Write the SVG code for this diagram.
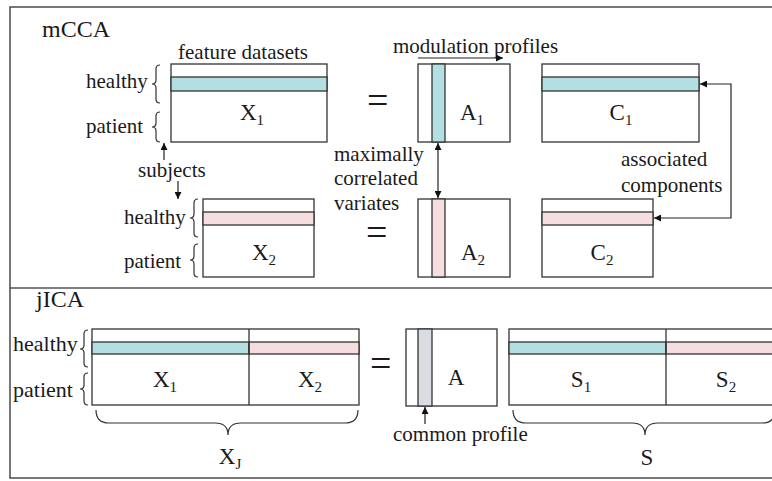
<svg xmlns="http://www.w3.org/2000/svg" width="772" height="481" viewBox="0 0 772 481">
<style>
text{font-family:"Liberation Serif","Times New Roman",serif;fill:#1a1a1a}
.lb{font-size:21px}
.lb2{font-size:22px}
.ttl{font-size:24px}
.m{font-size:23px;text-anchor:middle}
.sub{font-size:15px}
.eq{font-size:38px}
.box{fill:#fff;stroke:#333;stroke-width:1.3}
.ln{fill:none;stroke:#333;stroke-width:1.3}
.cy{fill:#b3dfe3;stroke:#333;stroke-width:1.3}
.pk{fill:#f6dde0;stroke:#333;stroke-width:1.3}
.gy{fill:#d9dde1;stroke:#333;stroke-width:1.3}
.br{fill:none;stroke:#333;stroke-width:1.2}
.ar{fill:none;stroke:#222;stroke-width:1.2}
.frame{fill:none;stroke:#555;stroke-width:1.6}
</style>
<defs>
<marker id="ah" viewBox="0 0 10 10" refX="10" refY="5" markerWidth="7" markerHeight="7" markerUnits="userSpaceOnUse" orient="auto-start-reverse">
<path d="M0,0 L10,5 L0,10 z" fill="#111"/>
</marker>
</defs>
<rect width="772" height="481" fill="#fff"/>
<g id="frame">
<rect class="frame" x="10" y="7" width="780" height="471"/>
<line class="frame" x1="10" y1="288" x2="772" y2="288"/>
</g>
<text class="ttl" x="42" y="37">mCCA</text>
<text class="ttl" x="36" y="307">jICA</text>

<g id="X1">
<rect class="box" x="171" y="64" width="156" height="78"/>
<rect class="cy" x="171" y="77" width="156" height="14"/>
<text class="m" x="252" y="120">X<tspan class="sub" dy="5">1</tspan></text>
<text class="lb" x="178" y="59">feature datasets</text>
<text class="lb" x="86" y="88">healthy</text>
<text class="lb" x="86" y="133">patient</text>
<path class="br" d="M160,65 q-4,0 -4,4 v11 q0,4 -4,4 q4,0 4,4 v11 q0,4 4,4"/>
<path class="br" d="M160,112 q-4,0 -4,4 v7 q0,4 -4,4 q4,0 4,4 v7 q0,4 4,4"/>
</g>
<text class="eq" x="367" y="113">=</text>
<g id="A1">
<rect class="box" x="418" y="64" width="92" height="78"/>
<rect class="cy" x="432" y="64" width="13" height="78"/>
<text class="m" x="472" y="120">A<tspan class="sub" dy="5">1</tspan></text>
<text class="lb" x="393" y="53">modulation profiles</text>
</g>
<g id="C1">
<rect class="box" x="542" y="64" width="157" height="78"/>
<rect class="cy" x="542" y="77" width="157" height="14"/>
<text class="m" x="621" y="120">C<tspan class="sub" dy="5">1</tspan></text>
</g>
<g id="X2">
<rect class="box" x="203" y="199" width="111" height="78"/>
<rect class="pk" x="203" y="212" width="111" height="13"/>
<text class="m" x="264" y="260">X<tspan class="sub" dy="5">2</tspan></text>
<text class="lb" x="124" y="224">healthy</text>
<text class="lb" x="124" y="268">patient</text>
<path class="br" d="M198,199 q-4,0 -4,4 v11 q0,4 -4,4 q4,0 4,4 v11 q0,4 4,4"/>
<path class="br" d="M198,244 q-4,0 -4,4 v8 q0,4 -4,4 q4,0 4,4 v9 q0,4 4,4"/>
</g>
<text class="lb" x="334" y="161">maximally</text>
<text class="lb" x="334" y="185">correlated</text>
<text class="lb" x="334" y="210">variates</text>
<text class="eq" x="366" y="245">=</text>
<g id="A2">
<rect class="box" x="418" y="199" width="92" height="78"/>
<rect class="pk" x="432" y="199" width="13" height="78"/>
<text class="m" x="473" y="260">A<tspan class="sub" dy="5">2</tspan></text>
</g>
<g id="C2">
<rect class="box" x="542" y="199" width="111" height="78"/>
<rect class="pk" x="542" y="212" width="111" height="13"/>
<text class="m" x="602" y="260">C<tspan class="sub" dy="5">2</tspan></text>
</g>
<text class="lb" x="621" y="166">associated</text>
<text class="lb" x="621" y="192">components</text>
<text class="lb" x="138" y="177">subjects</text>

<g id="XJ">
<rect class="box" x="92" y="329" width="267" height="76"/>
<rect class="cy" x="92" y="342" width="157" height="12"/>
<rect class="pk" x="249" y="342" width="110" height="12"/>
<line class="ln" x1="249" y1="329" x2="249" y2="405"/>
<text class="m" x="165" y="387">X<tspan class="sub" dy="5">1</tspan></text>
<text class="m" x="310" y="387">X<tspan class="sub" dy="5">2</tspan></text>
<text class="lb2" x="13" y="351">healthy</text>
<text class="lb2" x="13" y="397">patient</text>
<path class="br" d="M88,330 q-4,0 -4,4 v11 q0,4 -4,4 q4,0 4,4 v10 q0,4 4,4"/>
<path class="br" d="M88,373 q-4,0 -4,4 v8 q0,4 -4,4 q4,0 4,4 v8 q0,4 4,4"/>
<path class="br" d="M96,410 q0,13 13,13 h106 q13,0 13,12 q0,-12 13,-12 h104 q13,0 13,-13"/>
<text class="m" x="230" y="464">X<tspan class="sub" dy="5">J</tspan></text>
</g>
<text class="eq" x="370" y="376">=</text>
<g id="A">
<rect class="box" x="406" y="329" width="91" height="77"/>
<rect class="gy" x="418" y="329" width="14" height="77"/>
<text class="m" x="456" y="385">A</text>
<text class="lb" x="393" y="441">common profile</text>
</g>
<g id="S">
<rect class="box" x="509" y="329" width="280" height="76"/>
<rect class="cy" x="509" y="342" width="157" height="12"/>
<rect class="pk" x="666" y="342" width="123" height="12"/>
<line class="ln" x1="666" y1="329" x2="666" y2="405"/>
<text class="m" x="581" y="387">S<tspan class="sub" dy="5">1</tspan></text>
<text class="m" x="726" y="387">S<tspan class="sub" dy="5">2</tspan></text>
<path class="br" d="M513,410 q0,13 13,13 h106 q13,0 13,12 q0,-12 13,-12 h104 q13,0 13,-13"/>
<text class="m" x="647" y="465">S</text>
</g>

<g id="connectors">
<line class="ar" x1="418" y1="58" x2="503" y2="58" marker-end="url(#ah)"/>
<line class="ar" x1="438" y1="143" x2="438" y2="198" marker-start="url(#ah)" marker-end="url(#ah)"/>
<polyline class="ar" points="700,84 731,84 731,218 654,218" marker-start="url(#ah)" marker-end="url(#ah)"/>
<line class="ar" x1="164" y1="160" x2="164" y2="143" marker-end="url(#ah)"/>
<line class="ar" x1="178" y1="181" x2="178" y2="199" marker-end="url(#ah)"/>
<line class="ar" x1="425" y1="424" x2="425" y2="407" marker-end="url(#ah)"/>
</g>
</svg>
